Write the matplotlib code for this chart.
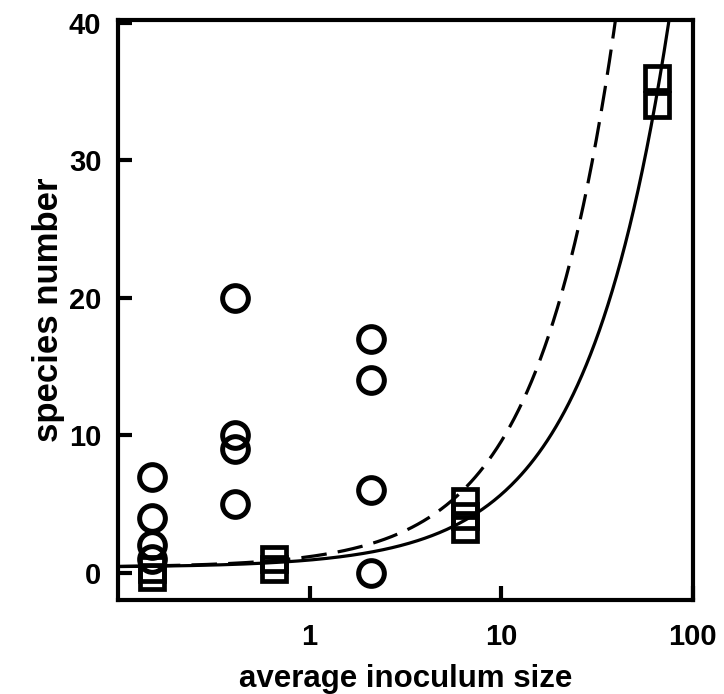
import numpy as np
import matplotlib
matplotlib.use("Agg")
import matplotlib.pyplot as plt
from matplotlib.ticker import FixedLocator, FixedFormatter, NullLocator

plt.rcParams['font.family'] = ['Liberation Sans', 'DejaVu Sans']
plt.rcParams['font.weight'] = 'bold'

# open circles: species counts per inoculum level
circle_x = [0.15, 0.15, 0.15, 0.15, 0.41, 0.41, 0.41, 0.41, 2.1, 2.1, 2.1, 2.1]
circle_y = [7, 4, 2, 1, 20, 10, 9, 5, 17, 14, 6, 0]

# open squares
square_x = [0.15, 0.15, 0.65, 0.65, 6.5, 6.5, 6.5, 65, 65]
square_y = [0.3, -0.3, 1.0, 0.3, 5.2, 4.1, 3.2, 36, 34]

# fitted curves  y = a + b * x**c
solid_fit = (0.4, 0.53, 1.0)
dashed_fit = (0.4, 0.78, 1.07)

fig = plt.figure(figsize=(7.24, 6.94), dpi=100)
ax = fig.add_axes([0.163, 0.135, 0.794, 0.836])

xs = np.logspace(-1, 2, 400)
a, b, c = solid_fit
ax.plot(xs, a + b * xs ** c, color='black', lw=2.3, zorder=2)
a, b, c = dashed_fit
ax.plot(xs, a + b * xs ** c, color='black', lw=2.3, dashes=(8, 3.5), zorder=2)

ax.plot(circle_x, circle_y, 'o', ms=18.5, mfc='none', mec='black', mew=3.6, zorder=3)
ax.plot(square_x, square_y, 's', ms=17, mfc='none', mec='black', mew=3.4, zorder=3)

ax.set_xscale('log')
ax.set_xlim(0.1, 100)
ax.set_ylim(-2, 40.2)

ax.xaxis.set_major_locator(FixedLocator([1, 10, 100]))
ax.xaxis.set_major_formatter(FixedFormatter(['1', '10', '100']))
ax.xaxis.set_minor_locator(NullLocator())
ax.set_yticks([0, 10, 20, 30, 40])

ax.tick_params(direction='in', length=10, width=3, labelsize=21)
ax.tick_params(axis='x', pad=16)
ax.tick_params(axis='y', pad=12)
for s in ax.spines.values():
    s.set_linewidth(3)

ax.set_xlabel('average inoculum size', fontsize=22.5, fontweight='bold', labelpad=10)
ax.set_ylabel('species number', fontsize=25, fontweight='bold', labelpad=3)

fig.savefig('out.png', dpi=100)
